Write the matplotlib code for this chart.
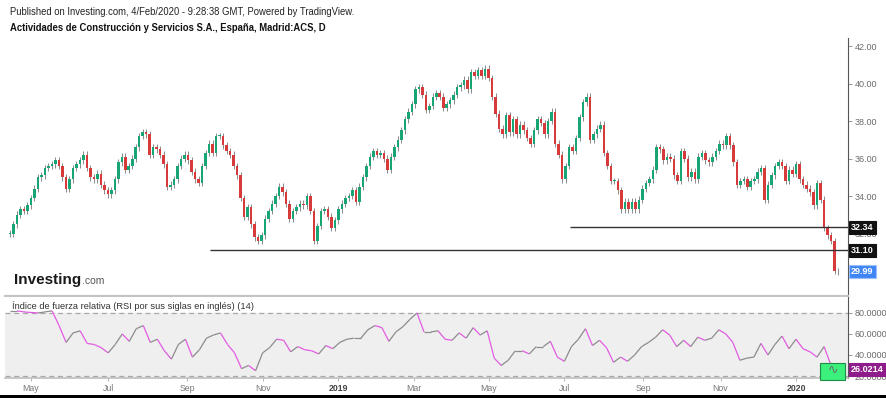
import numpy as np
import pandas as pd
import matplotlib
matplotlib.use("Agg")
import matplotlib.pyplot as plt
from matplotlib.collections import LineCollection
from matplotlib.patches import Rectangle

plt.rcParams['font.family'] = ['Liberation Sans', 'DejaVu Sans']

# ACS daily closes (one value per two sessions)
closes = [
    32.0, 32.5, 33.0, 33.3, 33.2, 33.5, 33.9, 34.4, 35.0, 35.1,
    35.5, 35.6, 35.7, 35.9, 35.6, 35.0, 34.4, 34.9, 35.5, 35.7,
    35.9, 36.2, 35.5, 35.0, 34.9, 35.2, 34.6, 34.3, 34.1, 34.3,
    34.9, 35.8, 36.1, 35.4, 35.6, 36.0, 36.6, 37.2, 37.4, 37.3,
    36.2, 36.6, 36.5, 36.2, 35.7, 34.5, 34.6, 34.9, 35.6, 36.0,
    36.2, 35.9, 35.3, 34.9, 34.7, 35.6, 36.3, 36.8, 36.3, 37.2,
    37.2, 36.7, 36.4, 36.2, 35.6, 35.1, 33.9, 32.9, 33.4, 32.5,
    31.8, 31.6, 31.9, 32.8, 33.2, 33.6, 34.0, 34.5, 34.2, 33.6,
    32.8, 33.2, 33.4, 33.6, 33.5, 34.0, 33.2, 31.6, 32.4, 33.2,
    33.3, 32.9, 32.3, 32.7, 33.3, 33.6, 33.9, 34.0, 34.3, 33.7,
    34.5, 35.0, 35.6, 36.1, 36.4, 36.2, 36.3, 36.0, 35.4, 36.1,
    36.6, 37.0, 37.5, 38.1, 38.5, 38.9, 39.7, 39.8, 39.4, 38.6,
    38.8, 39.3, 39.5, 39.3, 38.7, 38.9, 39.1, 39.4, 39.8, 39.9,
    40.2, 39.7, 40.6, 40.4, 40.7, 40.4, 40.8, 40.3, 39.3, 38.4,
    37.6, 37.3, 38.3, 37.4, 38.1, 37.3, 37.8, 37.5, 37.1, 36.8,
    37.5, 38.1, 37.9, 37.3, 38.0, 38.5, 36.8, 36.2, 34.9, 35.6,
    36.6, 36.4, 37.1, 38.2, 39.0, 39.3, 37.0, 37.3, 37.6, 37.8,
    36.3, 35.6, 34.8, 34.8, 34.3, 33.3, 33.7, 33.3, 33.7, 33.3,
    33.8, 34.4, 34.7, 34.9, 35.4, 36.6, 36.5, 35.9, 36.1, 36.0,
    35.1, 34.8, 36.4, 36.0, 35.0, 35.3, 34.9, 36.1, 36.3, 35.9,
    35.8, 36.1, 36.4, 36.8, 36.7, 37.2, 36.7, 35.8, 34.6, 34.8,
    34.9, 34.5, 34.8, 34.9, 35.3, 35.5, 33.8, 34.6, 35.1, 35.6,
    35.8, 35.6, 34.8, 35.4, 35.2, 35.7, 34.9, 34.6, 34.4, 34.2,
    33.5, 34.7, 33.8, 32.3, 31.9, 31.6, 30.0, 29.99,
]

# RSI(14)
rsi = [
    82, 82, 81, 80.5, 80, 81, 82, 68, 52, 61,
    63, 51, 50, 47, 42, 50, 60, 53, 65, 68,
    52, 55, 44, 36, 50, 55, 38, 45, 56, 59,
    61, 50, 42, 27, 30, 25, 42, 47, 55, 54,
    43, 48, 45, 44, 41, 49, 46, 52, 55, 56,
    56, 64, 68, 66, 53, 62, 67, 74, 80, 62,
    62, 63, 55, 54, 61, 56, 66, 59, 63, 37,
    30, 35, 44, 44, 41, 48, 48, 53, 38, 34,
    48, 55, 65, 49, 54, 47, 33, 38, 34, 40,
    48, 52, 57, 64, 59, 48, 54, 48, 57, 54,
    56, 64, 60, 52, 35, 37, 38, 51, 40, 50,
    58, 46, 55, 46, 43, 38, 48, 30, 26.0214,
]

price_ticks = [34, 36, 38, 40, 42, 32]
rsi_ticks = [80, 60, 40, 20]
month_starts = ['2018-05-01', '2018-07-02', '2018-09-03', '2018-11-01', '2019-01-01',
                '2019-03-01', '2019-05-01', '2019-07-01', '2019-09-02', '2019-11-01',
                '2020-01-01']
month_labels = ['May', 'Jul', 'Sep', 'Nov', '2019', 'Mar', 'May', 'Jul', 'Sep', 'Nov', '2020']

support_levels = [31.10, 32.34]
support_starts = ['2018-09-20', '2019-07-04']
last_price = 29.99

# session axis (business days, no gaps for weekends)
bdays = pd.bdate_range('2018-04-13', '2020-02-04')
nb = len(bdays)
xc = np.linspace(0, nb - 1, len(closes))
xr = np.linspace(0, nb - 1, len(rsi))
closes = np.array(closes)
opens = np.r_[closes[0], closes[:-1]]

def bidx(d):
    return int(np.searchsorted(bdays, pd.Timestamp(d)))

tick_pos = [bidx(d) for d in month_starts]
i_may, i_jan = tick_pos[0], tick_pos[-1]
scale = (796 - 31) / (i_jan - i_may)       # pixels per session
xlim = (i_may - (31 - 5) / scale, i_may + (848 - 31) / scale)

W, H = 886, 398
def box(x0, y0, x1, y1):
    return [x0 / W, 1 - y1 / H, (x1 - x0) / W, (y1 - y0) / H]

fig = plt.figure(figsize=(W / 100, H / 100), dpi=100)
ax = fig.add_axes(box(5, 38, 848, 296))
ax2 = fig.add_axes(box(5, 297, 848, 378), sharex=ax)

# candles
up = closes >= opens
green, red = '#17a673', '#d63a3a'
cols = np.where(up, green, red)
spacing = xc[1] - xc[0]
lo = np.minimum(opens, closes)
hi = np.maximum(opens, closes)
ax.vlines(xc, lo - 0.18, hi + 0.18, color='#8a8a8a', lw=0.7, zorder=2)
ax.bar(xc, np.maximum(hi - lo, 0.04), bottom=lo, width=spacing * 0.72,
       color=cols, edgecolor='none', zorder=3)

for lvl, st in zip(support_levels, support_starts):
    ax.hlines(lvl, bidx(st), xlim[1], color='#333333', lw=1.0, zorder=4)

ax.set_xlim(*xlim)
ax.set_ylim(28.67, 42.43)
for s in ['top', 'left']:
    ax.spines[s].set_visible(False)
ax.spines['right'].set_color('#555555')
ax.spines['right'].set_linewidth(0.8)
ax.spines['bottom'].set_color('#c4c4c4')
ax.spines['bottom'].set_linewidth(1.6)
ax.yaxis.tick_right()
ax.set_yticks(price_ticks)
ax.set_yticklabels([f'{v:.2f}' for v in price_ticks])
ax.tick_params(axis='y', length=3, width=0.6, color='#888888', labelsize=6.5,
               labelcolor='#6a6a6a', pad=2)
ax.tick_params(axis='x', bottom=False, labelbottom=False)

def price_tag(ax_, val, txt, fc, ec, fs=6.5):
    ax_.annotate(txt, xy=(1, val), xycoords=('axes fraction', 'data'),
                 xytext=(2.2, 0), textcoords='offset points', va='center', ha='left',
                 fontsize=fs, color='white', fontweight='bold',
                 bbox=dict(boxstyle='square,pad=0.22', fc=fc, ec=ec, lw=0.8),
                 annotation_clip=False, zorder=10)

price_tag(ax, 32.34, '32.34', '#111111', '#111111')
price_tag(ax, 31.10, '31.10', '#111111', '#111111')
price_tag(ax, last_price, f'{last_price:.2f}', '#3f86f4', '#9cc0ff')

# RSI panel
ax2.axhspan(20, 80, color='#efefef', zorder=0)
for v in (80, 20):
    ax2.axhline(v, color='#a8a8a8', lw=0.9, ls=(0, (4, 3)), zorder=1)
pts = np.column_stack([xr, rsi])
segs = np.stack([pts[:-1], pts[1:]], axis=1)
seg_cols = np.where(np.diff(rsi) < 0, '#e35be3', '#8c8c8c')
ax2.add_collection(LineCollection(segs, colors=seg_cols, lw=0.9, zorder=3))
ax2.set_ylim(18.1, 95.2)
for s in ['top', 'left']:
    ax2.spines[s].set_visible(False)
ax2.spines['right'].set_color('#555555')
ax2.spines['right'].set_linewidth(0.8)
ax2.spines['bottom'].set_color('#bdbdbd')
ax2.spines['bottom'].set_linewidth(1.2)
ax2.yaxis.tick_right()
ax2.set_yticks(rsi_ticks)
ax2.set_yticklabels([f'{v:.4f}' for v in rsi_ticks])
ax2.tick_params(axis='y', length=3, width=0.6, color='#888888', labelsize=6.5,
                labelcolor='#6a6a6a', pad=2)
ax2.set_xticks(tick_pos)
ax2.set_xticklabels(month_labels)
ax2.tick_params(axis='x', length=2, width=0.6, color='#aaaaaa', labelsize=6.3,
                labelcolor='#777777', pad=2)
for t in ax2.get_xticklabels():
    if t.get_text().isdigit():
        t.set_fontweight('bold')
        t.set_color('#444444')
price_tag(ax2, rsi[-1], f'{rsi[-1]:.4f}', '#8e1c8b', '#8e1c8b')
ax2.text(7 / (848 - 5), 0.885,
         'Índice de fuerza relativa (RSI por sus siglas en inglés) (14)',
         transform=ax2.transAxes, fontsize=6.7, color='#333333', va='center', zorder=5)

# header and logo
fig.text(10 / W, 1 - 12 / H,
         'Published on Investing.com, 4/Feb/2020 - 9:28:38 GMT, Powered by TradingView.',
         fontsize=6.85, color='#222222', va='center')
fig.text(10 / W, 1 - 28 / H,
         'Actividades de Construcción y Servicios S.A., España, Madrid:ACS, D',
         fontsize=6.85, fontweight='bold', color='#111111', va='center')
fig.text(14 / W, 1 - 280 / H, 'Investing', fontsize=11, fontweight='bold',
         color='#1a1a1a', va='center')
fig.text(82 / W, 1 - 281.5 / H, '.com', fontsize=7.5, color='#555555', va='center')

# green widget at the end of the RSI pane
fig.patches.append(Rectangle((820 / W, 1 - 380 / H), 25 / W, 17 / H, transform=fig.transFigure,
                             fc='#3cf07c', ec='#1c8f45', lw=0.8, zorder=20))
fig.text(832.5 / W, 1 - 371 / H, '\u223f', fontsize=9, color='#6a6a6a',
         ha='center', va='center', zorder=21)

# dark strip along the bottom edge
fig.patches.append(Rectangle((0, 0), 1, 3 / H, transform=fig.transFigure,
                             fc='black', ec='none', zorder=20))

fig.savefig('out.png', dpi=100)
